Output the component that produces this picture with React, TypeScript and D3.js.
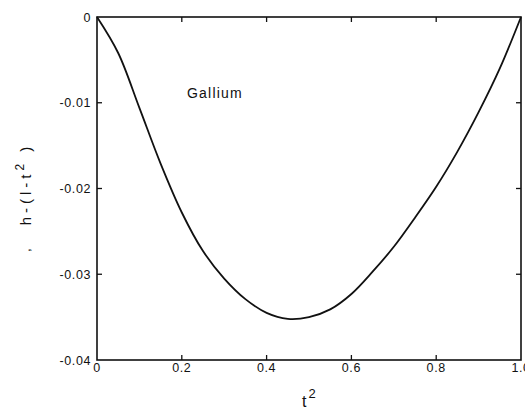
import React from "react";
import * as d3 from "d3";

// Deviation of the reduced critical field from the parabolic law, for gallium
const tSquared = [0, 0.05, 0.1, 0.15, 0.2, 0.25, 0.3, 0.35, 0.4, 0.45, 0.5, 0.55, 0.6, 0.65, 0.7, 0.75, 0.8, 0.85, 0.9, 0.95, 1.0];
const deviation = [0, -0.0042, -0.0106, -0.0171, -0.0228, -0.0273, -0.0305, -0.0329, -0.0345, -0.0352, -0.035, -0.0341, -0.0323, -0.0297, -0.0268, -0.0234, -0.0198, -0.0157, -0.0111, -0.006, 0];

const xTicks = [0, 0.2, 0.4, 0.6, 0.8, 1.0];
const xTickLabels = ["0", "0.2", "0.4", "0.6", "0.8", "1.0"];
const yTicks = [0, -0.01, -0.02, -0.03, -0.04];
const yTickLabels = ["0", "-0.01", "-0.02", "-0.03", "-0.04"];

const W = 525;
const H = 410;
const left = 97;
const right = 521;
const top = 17;
const bottom = 360;
const tickLen = 5;
const font = "'Liberation Sans', 'DejaVu Sans', sans-serif";

export default function App() {
  const x = d3.scaleLinear().domain([0, 1]).range([left, right]);
  const y = d3.scaleLinear().domain([-0.04, 0]).range([bottom, top]);

  const points: [number, number][] = tSquared.map((t, i) => [t, deviation[i]]);
  const line = d3
    .line<[number, number]>()
    .x((d) => x(d[0]))
    .y((d) => y(d[1]))
    .curve(d3.curveCatmullRom.alpha(0.5));

  return (
    <svg
      width={W}
      height={H}
      style={{ position: "absolute", left: 0, top: 0, background: "#fff" }}
    >
      {/* frame */}
      <rect
        x={left}
        y={top}
        width={right - left}
        height={bottom - top}
        fill="none"
        stroke="#111"
        strokeWidth={1.6}
      />

      {/* x ticks, bottom and top, pointing inward */}
      {xTicks.map((t, i) => (
        <g key={"xt" + i}>
          {i > 0 && i < xTicks.length - 1 && (
            <>
              <line x1={x(t)} x2={x(t)} y1={bottom} y2={bottom - tickLen} stroke="#111" strokeWidth={1.3} />
              <line x1={x(t)} x2={x(t)} y1={top} y2={top + tickLen} stroke="#111" strokeWidth={1.3} />
            </>
          )}
          <text
            x={x(t)}
            y={372}
            textAnchor="middle"
            fontFamily={font}
            fontSize={12.5}
            letterSpacing={0.6}
            fill="#111"
          >
            {xTickLabels[i]}
          </text>
        </g>
      ))}

      {/* y ticks, left and right, pointing inward */}
      {yTicks.map((v, i) => (
        <g key={"yt" + i}>
          {i > 0 && i < yTicks.length - 1 && (
            <>
              <line x1={left} x2={left + tickLen} y1={y(v)} y2={y(v)} stroke="#111" strokeWidth={1.3} />
              <line x1={right} x2={right - tickLen} y1={y(v)} y2={y(v)} stroke="#111" strokeWidth={1.3} />
            </>
          )}
          <text
            x={91}
            y={y(v) + 4.5}
            textAnchor="end"
            fontFamily={font}
            fontSize={12.5}
            letterSpacing={0.6}
            fill="#111"
          >
            {yTickLabels[i]}
          </text>
        </g>
      ))}

      {/* data curve */}
      <path d={line(points) ?? ""} fill="none" stroke="#111" strokeWidth={1.8} />

      {/* series label */}
      <text x={187} y={98} fontFamily={font} fontSize={14} letterSpacing={1.2} fill="#111">
        Gallium
      </text>

      {/* x axis title */}
      <text x={302} y={407} fontFamily={font} fontSize={16} fill="#111">
        t
        <tspan dx={2} dy={-9} fontSize={13}>
          2
        </tspan>
      </text>

      {/* y axis title */}
      <text
        transform="translate(31,184) rotate(-90)"
        textAnchor="middle"
        fontFamily={font}
        fontSize={15}
        letterSpacing={4}
        fill="#111"
      >
        h-(l-t
        <tspan dy={-7} fontSize={12}>
          2
        </tspan>
        <tspan dy={7}> )</tspan>
      </text>
      <text
        transform="translate(30,250) rotate(-90)"
        textAnchor="middle"
        fontFamily={font}
        fontSize={12}
        fill="#111"
      >
        ,
      </text>
    </svg>
  );
}
